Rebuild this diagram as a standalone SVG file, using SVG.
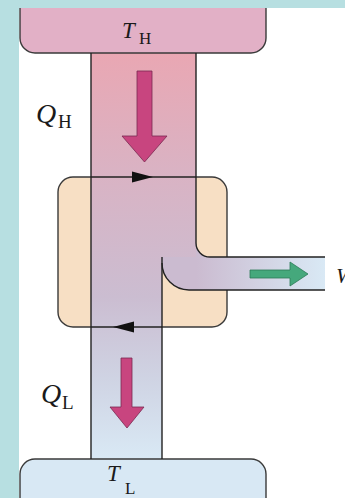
<svg xmlns="http://www.w3.org/2000/svg" width="345" height="498" viewBox="0 0 345 498">
<defs>
<linearGradient id="colGrad" gradientUnits="userSpaceOnUse" x1="0" y1="54" x2="0" y2="459">
<stop offset="0" stop-color="#e9a7b3"/>
<stop offset="0.3" stop-color="#d9b3c4"/>
<stop offset="0.6" stop-color="#cbbdd1"/>
<stop offset="0.8" stop-color="#cfd3e3"/>
<stop offset="1" stop-color="#d9e9f5"/>
</linearGradient>
<linearGradient id="chanGrad" gradientUnits="userSpaceOnUse" x1="196" y1="0" x2="325" y2="0">
<stop offset="0" stop-color="#cbbbd0"/>
<stop offset="1" stop-color="#d9e9f5"/>
</linearGradient>
<style>
.ln{fill:none;stroke:#222;stroke-width:1.4}
.box{stroke:#3a3a3a;stroke-width:1.4}
.heat{fill:#c8457f;stroke:#7a2a50;stroke-width:0.8}
.lbl{font-family:"Liberation Serif","Times New Roman",serif;fill:#1a1a1a}
.it{font-style:italic}
</style>
</defs>
<rect x="0" y="0" width="345" height="498" fill="#b7dfe1"/>
<rect x="19" y="8" width="326" height="490" fill="#ffffff"/>

<g id="engine">
<rect x="58" y="177" width="169" height="150" rx="15" fill="#f7dfc4" class="box"/>
</g>

<g id="fluid">
<path d="M91,53 H196 V243 A14,14 0 0 0 210,257 H325 V290 H189 A27,27 0 0 1 162,263 V459 H91 Z" fill="url(#colGrad)"/>
<path d="M196,243 A14,14 0 0 0 210,257 H325 V290 H189 A27,27 0 0 1 162,263 V257 H196 Z" fill="url(#chanGrad)"/>
</g>

<g id="hot">
<path d="M20,8 V38 A15,15 0 0 0 35,53 H251 A15,15 0 0 0 266,38 V8" fill="#e2b0c6" class="box"/>
<text class="lbl" y="38"><tspan class="it" x="122" font-size="23">T</tspan><tspan x="139" y="44" font-size="17">H</tspan></text>
</g>

<g id="cold">
<rect x="20" y="459" width="246" height="70" rx="15" fill="#d8e8f4" class="box"/>
<text class="lbl" y="481"><tspan class="it" x="107" font-size="23">T</tspan><tspan x="125" y="494" font-size="17">L</tspan></text>
</g>

<g id="connectors">
<path class="ln" d="M91,53 V459"/>
<path class="ln" d="M196,53 V243 A14,14 0 0 0 210,257 H325"/>
<path class="ln" d="M162,257 V459"/>
<path class="ln" d="M162,263 A27,27 0 0 0 189,290 H325"/>
<path class="ln" d="M91,177 H196"/>
<path d="M153,177 L132,171.5 L132,182.5 Z" fill="#111"/>
<path class="ln" d="M91,327 H162"/>
<path d="M113,327 L134,321.5 L134,332.5 Z" fill="#111"/>
</g>

<g id="qh">
<path class="heat" d="M137,71 H152 V136 H167 L144.5,162 L122,136 H137 Z"/>
<text class="lbl" y="123"><tspan class="it" x="36" font-size="28">Q</tspan><tspan x="58" y="128" font-size="19">H</tspan></text>
</g>

<g id="ql">
<path class="heat" d="M121,358 H132 V407 H144 L127,428 L110,407 H121 Z"/>
<text class="lbl" y="403"><tspan class="it" x="41" font-size="28">Q</tspan><tspan x="62" y="409" font-size="19">L</tspan></text>
</g>

<g id="work">
<path d="M250,270 H290 V262 L308,274 L290,286 V278 H250 Z" fill="#45a87c" stroke="#2b7a55" stroke-width="0.8"/>
<text class="lbl it" x="336" y="283" font-size="22">W</text>
</g>
</svg>
